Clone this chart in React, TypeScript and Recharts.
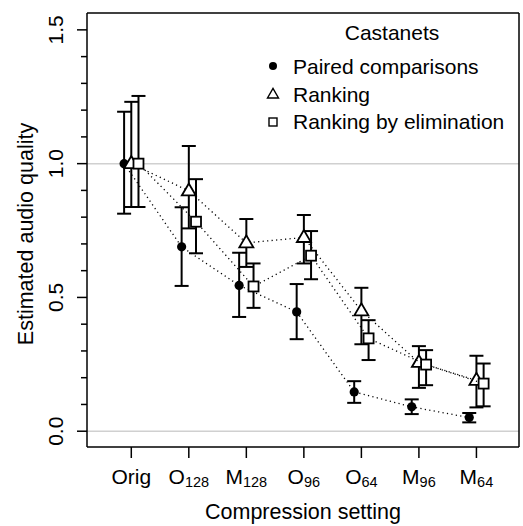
import React from 'react';
import { ComposedChart, Scatter, XAxis, YAxis, ErrorBar, ReferenceLine, Legend } from 'recharts';

// compression settings (label main part + subscript)
const settingMain = ['Orig', 'O', 'M', 'O', 'O', 'M', 'M'];
const settingSub = ['', '128', '128', '96', '64', '96', '64'];

// Paired comparisons
const pairedMean = [1.0, 0.689, 0.545, 0.446, 0.147, 0.091, 0.051];
const pairedLow = [0.813, 0.543, 0.427, 0.344, 0.106, 0.064, 0.033];
const pairedHigh = [1.194, 0.837, 0.667, 0.55, 0.187, 0.119, 0.068];

// Ranking
const rankingMean = [1.0, 0.898, 0.704, 0.724, 0.45, 0.257, 0.19];
const rankingLow = [0.838, 0.758, 0.614, 0.627, 0.325, 0.162, 0.089];
const rankingHigh = [1.231, 1.066, 0.793, 0.808, 0.536, 0.318, 0.282];

// Ranking by elimination
const elimMean = [1.0, 0.783, 0.541, 0.656, 0.347, 0.249, 0.178];
const elimLow = [0.838, 0.665, 0.461, 0.568, 0.266, 0.172, 0.093];
const elimHigh = [1.253, 0.942, 0.627, 0.748, 0.415, 0.303, 0.253];

const xTicks = [1, 2, 3, 4, 5, 6, 7];
const yTicks = [0, 0.1, 0.2, 0.3, 0.4, 0.5, 0.6, 0.7, 0.8, 0.9, 1.0, 1.1, 1.2, 1.3, 1.4, 1.5];

const FONT = "'Liberation Sans', Arial, Helvetica, sans-serif";
const X_DOMAIN = [0.23, 7.74];
const Y_DOMAIN = [-0.059, 1.563];

const makeSeries = (mean: number[], low: number[], high: number[], off: number) =>
  mean.map((m, i) => ({ x: i + 1 + off, y: m, err: [m - low[i], high[i] - m] }));

const paired = makeSeries(pairedMean, pairedLow, pairedHigh, -0.125);
const ranking = makeSeries(rankingMean, rankingLow, rankingHigh, 0);
const elim = makeSeries(elimMean, elimLow, elimHigh, 0.125);

const DotShape = (p: any) => <circle cx={p.cx} cy={p.cy} r={4.6} fill="#000" />;
const TriShape = (p: any) => (
  <polygon
    points={`${p.cx - 7},${p.cy + 4.5} ${p.cx + 7},${p.cy + 4.5} ${p.cx},${p.cy - 7.5}`}
    fill="#fff"
    stroke="#000"
    strokeWidth={1.8}
  />
);
const SqShape = (p: any) => (
  <rect x={p.cx - 5} y={p.cy - 5} width={10} height={10} fill="#fff" stroke="#000" strokeWidth={1.8} />
);

const XTick = ({ x, y, payload }: any) => {
  const i = Math.round(payload.value) - 1;
  return (
    <text x={x} y={y + 26} textAnchor="middle" fontSize={21} fontFamily={FONT} fill="#000">
      {settingMain[i]}
      {settingSub[i] && (
        <tspan fontSize={14.5} dy={3.3}>
          {settingSub[i]}
        </tspan>
      )}
    </text>
  );
};

const YTick = ({ x, y, payload }: any) => {
  const v = payload.value;
  const major = Math.abs(v * 2 - Math.round(v * 2)) < 1e-6;
  return (
    <g>
      <line x1={x - (major ? 10 : 6)} x2={x} y1={y} y2={y} stroke="#000" strokeWidth={1.5} />
      {major && (
        <text
          transform={`translate(${x - 24},${y}) rotate(-90)`}
          textAnchor="middle"
          fontSize={21}
          fontFamily={FONT}
          fill="#000"
        >
          {v.toFixed(1)}
        </text>
      )}
    </g>
  );
};

const YLabel = () => (
  <text
    transform="translate(33,234) rotate(-90)"
    textAnchor="middle"
    fontSize={21.5}
    fontFamily={FONT}
    fill="#000"
  >
    Estimated audio quality
  </text>
);

const XLabel = () => (
  <text x={303} y={519} textAnchor="middle" fontSize={21.5} fontFamily={FONT} fill="#000">
    Compression setting
  </text>
);

const LegendBox = () => (
  <svg width={523} height={140} style={{ display: 'block' }}>
    <text x={392} y={40} textAnchor="middle" fontSize={21} fontFamily={FONT}>Castanets</text>
    <circle cx={273} cy={66} r={4} fill="#000" />
    <text x={293} y={74} fontSize={21} fontFamily={FONT}>Paired comparisons</text>
    <polygon points="267.5,98 278.5,98 273,88.5" fill="#fff" stroke="#000" strokeWidth={1.4} />
    <text x={293} y={101.5} fontSize={21} fontFamily={FONT}>Ranking</text>
    <rect x={269} y={118} width={8} height={8} fill="#fff" stroke="#000" strokeWidth={1.4} />
    <text x={293} y={129} fontSize={21} fontFamily={FONT}>Ranking by elimination</text>
  </svg>
);

const dotted = { stroke: '#000', strokeWidth: 1.3, strokeDasharray: '1.2 3.3' };

export default function App() {
  return (
    <div
      style={{
        position: 'absolute',
        left: 0,
        top: 0,
        width: 523,
        height: 526,
        overflow: 'hidden',
        fontFamily: FONT,
        background: '#fff',
      }}
    >
      <ComposedChart width={523} height={526} margin={{ top: 0, right: 0, bottom: 0, left: 0 }}>
        <XAxis
          xAxisId="bottom"
          type="number"
          dataKey="x"
          domain={X_DOMAIN}
          ticks={xTicks}
          allowDataOverflow
          height={79}
          tickSize={11}
          tickMargin={0}
          tick={<XTick />}
          axisLine={{ stroke: '#000', strokeWidth: 1.5 }}
          tickLine={{ stroke: '#000', strokeWidth: 1.5 }}
          label={<XLabel />}
        />
        <XAxis
          xAxisId="top"
          orientation="top"
          type="number"
          domain={X_DOMAIN}
          ticks={xTicks}
          allowDataOverflow
          height={13}
          tickSize={12}
          tick={false}
          axisLine={{ stroke: '#000', strokeWidth: 1.5 }}
          tickLine={{ stroke: '#000', strokeWidth: 1.5 }}
        />
        <YAxis
          yAxisId="left"
          type="number"
          domain={Y_DOMAIN}
          ticks={yTicks}
          allowDataOverflow
          width={87}
          tickSize={0}
          tickMargin={0}
          tickLine={false}
          tick={<YTick />}
          axisLine={{ stroke: '#000', strokeWidth: 1.5 }}
          label={<YLabel />}
        />
        <YAxis
          yAxisId="right"
          orientation="right"
          type="number"
          domain={Y_DOMAIN}
          allowDataOverflow
          width={4}
          tick={false}
          tickLine={false}
          axisLine={{ stroke: '#000', strokeWidth: 1.5 }}
        />
        <ReferenceLine xAxisId="bottom" yAxisId="left" y={0} stroke="#d0d0d0" strokeWidth={1.5} />
        <ReferenceLine xAxisId="bottom" yAxisId="left" y={1} stroke="#d0d0d0" strokeWidth={1.5} />
        <Legend layout="vertical" align="center" verticalAlign="middle" content={<LegendBox />}
          wrapperStyle={{ position: 'absolute', left: 0, top: 0, width: 523, height: 140 }} />
        <Scatter
          name="Paired comparisons"
          data={paired}
          xAxisId="bottom"
          yAxisId="left"
          dataKey="y"
          line={dotted}
          shape={DotShape}
          isAnimationActive={false}
        >
          <ErrorBar dataKey="err" direction="y" width={7} stroke="#000" strokeWidth={2} />
        </Scatter>
        <Scatter
          name="Ranking"
          data={ranking}
          xAxisId="bottom"
          yAxisId="left"
          dataKey="y"
          line={dotted}
          shape={TriShape}
          isAnimationActive={false}
        >
          <ErrorBar dataKey="err" direction="y" width={7} stroke="#000" strokeWidth={2} />
        </Scatter>
        <Scatter
          name="Ranking by elimination"
          data={elim}
          xAxisId="bottom"
          yAxisId="left"
          dataKey="y"
          line={dotted}
          shape={SqShape}
          isAnimationActive={false}
        >
          <ErrorBar dataKey="err" direction="y" width={7} stroke="#000" strokeWidth={2} />
        </Scatter>
      </ComposedChart>
    </div>
  );
}
